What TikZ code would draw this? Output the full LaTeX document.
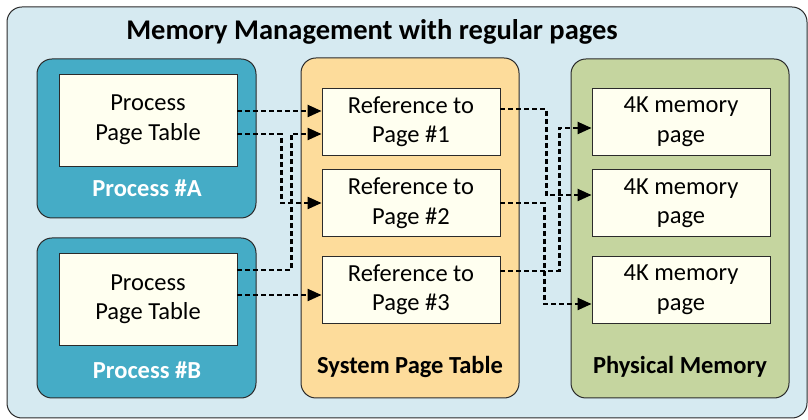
\documentclass[tikz,border=0pt]{standalone}
\usepackage{fontspec}
\setmainfont{Carlito}
\usetikzlibrary{arrows.meta, positioning, calc}
\definecolor{bgBlue}{HTML}{D6EAF1}
\definecolor{procTeal}{HTML}{45ACC6}
\definecolor{sysAmber}{HTML}{FDDC9B}
\definecolor{physGreen}{HTML}{C5D59F}
\definecolor{cellIvory}{HTML}{FFFFF0}
\definecolor{edgeGrey}{HTML}{2B2B2B}

\begin{document}
\begin{tikzpicture}[x=1pt, y=1pt,
    panel/.style={draw=edgeGrey, line width=1pt, rounded corners=15pt, inner sep=0pt},
    cell/.style={draw=edgeGrey, line width=0.9pt, fill=cellIvory, minimum width=178pt,
      inner sep=0pt, align=center, font=\fontsize{24.5}{29.5}\selectfont},
    caption/.style={font=\fontsize{24.5}{28}\selectfont\bfseries},
    link/.style={line width=2.3pt, dash pattern=on 5pt off 3pt,
      -{Triangle[length=14pt, width=12pt]}}]
    \useasboundingbox (0,0) rectangle (808,420);
    % Outer frame and title
    \node[panel, fill=bgBlue, minimum width=800pt, minimum height=411pt] (frame) at (407,207.5) {};
    \node[font=\fontsize{28.5}{32}\selectfont\bfseries] (title) at (372,388) {Memory Management with regular pages};
    % Process panels
    \node[panel, fill=procTeal, minimum width=219pt, minimum height=159pt] (procA) at (146.5,281.5) {};
    \node[panel, fill=procTeal, minimum width=219pt, minimum height=160pt] (procB) at (146.5,102) {};
    \node[cell, minimum height=92pt] (tblA) at (148,300) {Process\\Page Table};
    \node[cell, minimum height=92pt] (tblB) at (148,121) {Process\\Page Table};
    \node[caption, text=white] (capA) at (147,232) {Process \#A};
    \node[caption, text=white] (capB) at (147,50) {Process \#B};
    % System page table
    \node[panel, fill=sysAmber, minimum width=218pt, minimum height=340pt] (sys) at (410,192) {};
    \node[caption] (capSys) at (410,53) {System Page Table};
    % Physical memory
    \node[panel, fill=physGreen, minimum width=218pt, minimum height=339pt] (phys) at (680,191.5) {};
    \node[caption] (capPhys) at (680,53) {Physical Memory};
    % Entries and pages
    \foreach \i/\y in {1/298.5, 2/217, 3/130.5} {
      \node[cell, minimum height=67pt] (ref\i) at (411,\y) {Reference to\\Page \#\i};
      \node[cell, minimum height=67pt] (mem\i) at (681,\y) {4K memory\\page};
    }
    % Process A links
    \draw[link] ([yshift=9pt]tblA.east) -- ([yshift=9pt]tblA.east -| ref1.west);
    \draw[link] ([yshift=-14pt]tblA.east) -| ([xshift=-40pt]ref2.west) -- (ref2.west);
    % Process B links
    \draw[link] ([yshift=29pt]tblB.east) -| ([xshift=-30pt, yshift=-12.5pt]ref1.west) -- ([yshift=-12.5pt]ref1.west);
    \draw[link] ([yshift=4pt]tblB.east) -- ([yshift=4pt]tblB.east -| ref3.west);
    % Entries to memory pages
    \draw[link] ([yshift=12.5pt]ref1.east) -| ([xshift=-45pt, yshift=8pt]mem2.west) -- ([yshift=8pt]mem2.west);
    \draw[link] ([yshift=0pt]ref2.east) -| ([xshift=-47pt, yshift=-14.5pt]mem3.west) -- ([yshift=-14.5pt]mem3.west);
    \draw[link] ([yshift=18.5pt]ref3.east) -| ([xshift=-32pt, yshift=-6.5pt]mem1.west) -- ([yshift=-6.5pt]mem1.west);
\end{tikzpicture}
\end{document}
